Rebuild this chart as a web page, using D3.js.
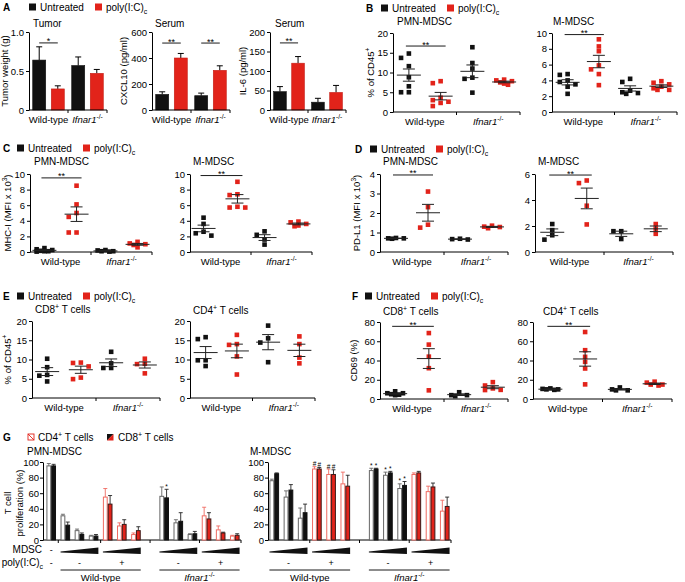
<!DOCTYPE html>
<html><head><meta charset="utf-8">
<script src="https://cdn.jsdelivr.net/npm/d3@7"></script>
<style>
body{margin:0;background:#fff}
text{font-family:"Liberation Sans",Arial,sans-serif;fill:#000}
</style>
</head><body>
<svg id="fig" width="685" height="582"></svg>
<script>
const RED = "#e2231a", BLK = "#111";

// ---- data ----
const genotypes = ["Wild-type", "Ifnar1"];
const treatments = ["Untreated", "poly"];

// A: bar means / SEM, order WT-untreated, WT-poly, KO-untreated, KO-poly
const tumorMean = [0.64, 0.27, 0.57, 0.47];
const tumorSem = [0.17, 0.04, 0.11, 0.05];
const cxcl10Mean = [120, 400, 110, 305];
const cxcl10Sem = [20, 35, 20, 35];
const il6Mean = [47, 120, 20, 45];
const il6Sem = [13, 17, 10, 18];

// B-F: individual mice, same group order
const bPmn = [[14.8, 13.7, 11.6, 8.8, 6.5, 5.0, 5.0], [7.8, 7.3, 3.6, 3.0, 2.6, 2.3, 1.5], [16.4, 12.4, 11.0, 8.7, 8.4, 4.9], [8.2, 8.0, 7.8, 7.5, 7.2, 6.9]];
const bM = [[4.8, 4.7, 4.0, 3.8, 3.5, 3.2, 2.3], [9.2, 8.3, 7.7, 5.9, 5.4, 4.8, 3.4], [4.2, 3.8, 2.7, 2.5, 2.4, 2.3], [3.9, 3.7, 3.5, 3.2, 3.0, 2.8, 2.8]];
const cPmn = [[0.5, 0.35, 0.25, 0.15, 0.1, 0.05, 0.1], [8.5, 6.1, 5.0, 4.5, 2.5, 2.5], [0.25, 0.2, 0.1, 0.05, 0.1], [1.3, 1.1, 1.0, 0.9, 0.6]];
const cM = [[4.4, 3.6, 2.6, 2.4, 2.1], [9.0, 7.4, 7.3, 5.8, 5.7, 5.7], [2.65, 2.2, 1.6, 0.95], [3.9, 3.8, 3.6, 3.4, 3.3]];
const dPmn = [[0.72, 0.7, 0.7, 0.68], [3.1, 2.3, 1.4, 1.25], [0.68, 0.66, 0.64], [1.35, 1.3, 1.28, 1.22]];
const dM = [[2.15, 1.68, 1.29, 0.95], [5.5, 5.3, 3.56, 2.12], [1.6, 1.6, 1.0], [2.15, 1.8, 1.4]];
const eCd8 = [[10.2, 8.0, 6.0, 5.8, 4.3], [9.2, 9.1, 8.2, 5.3, 4.9], [12.0, 9.0, 7.8, 7.8], [10.2, 8.9, 8.8, 6.4]];
const eCd4 = [[15.8, 15.3, 9.8, 9.8, 8.3], [16.4, 14.0, 13.8, 10.8, 6.1], [18.8, 15.5, 14.4, 9.3], [16.0, 14.0, 10.5, 9.0]];
const fCd8 = [[8, 6, 5, 4, 4.5, 6], [68.5, 56.5, 44, 32, 9], [3, 4, 4, 7], [17.5, 14, 11, 9.5, 9.3]];
const fCd4 = [[11, 10.5, 10, 9.5, 10], [69.6, 50.7, 43.8, 38.6, 31.7, 15.2], [9, 9, 10, 12], [18, 17, 15, 15, 14]];

// G: T cell proliferation (%), per condition
const pmnConds = ["ctrl", "WT-1", "WT-2", "WT-3", "WT+1", "WT+2", "WT+3", "KO-1", "KO-2", "KO-3", "KO+1", "KO+2", "KO+3"];
const pmnCd4 = [95, 31, 12, 5, 55, 18, 7, 56, 22, 7, 31, 13, 5];
const pmnCd4Sem = [3, 2, 2, 1, 11, 4, 2, 12, 4, 1, 11, 5, 1];
const pmnCd8 = [95, 19, 7, 5, 46, 20, 12, 54, 24, 8, 27, 9, 6];
const pmnCd8Sem = [2, 4, 2, 2, 11, 6, 5, 11, 11, 3, 8, 1, 2];
const pmnMarks4 = ["", "", "", "", "", "", "", "", "", "", "", "", ""];
const pmnMarks8 = ["", "", "", "", "", "", "", "*", "", "", "", "", ""];
const mConds = ["WT-1", "WT-2", "WT-3", "WT+1", "WT+2", "WT+3", "KO-1", "KO-2", "KO-3", "KO+1", "KO+2", "KO+3"];
const mCd4 = [76, 55, 28, 91, 84, 72, 89, 83, 66, 84, 62, 37];
const mCd4Sem = [2, 8, 13, 3, 7, 15, 3, 4, 6, 2, 7, 14];
const mCd8 = [85, 64, 35, 91, 84, 69, 91, 86, 70, 86, 68, 43];
const mCd8Sem = [1, 7, 11, 2, 6, 14, 1, 2, 5, 2, 5, 12];
const mMarks4 = ["", "", "", "#", "#", "", "*", "*", "*", "", "", ""];
const mMarks8 = ["", "", "", "#", "#", "", "*", "*", "*", "", "", ""];

// ---- helpers ----
const svg = d3.select("#fig");
svg.append("rect").attr("width", 685).attr("height", 582).attr("fill", "#fff");

function rich(txt, parts, fs) {
    let shift = 0;
    parts.forEach(([t, s]) => {
        const sp = txt.append("tspan").text(t);
        const want = s === "sup" ? -0.4 * fs : s === "sub" ? 0.3 * fs : 0;
        if (want !== shift) sp.attr("dy", want - shift);
        shift = want;
        if (s === "i") sp.style("font-style", "italic");
        if (s === "sup" || s === "sub") sp.style("font-size", (fs * 0.7) + "px");
    });
}

function label(x, y, parts, opt = {}) {
    const fs = opt.size || 10;
    const t = svg.append("text").attr("x", x).attr("y", y)
        .style("font-size", fs + "px")
        .attr("text-anchor", opt.anchor || "start");
    if (opt.rotate) t.attr("transform", `rotate(-90,${x},${y})`);
    if (opt.bold) t.style("font-weight", "bold");
    rich(t, typeof parts === "string" ? [[parts, ""]] : parts, fs);
    return t;
}

function line(x1, y1, x2, y2, c = "#000", w = 1) {
    svg.append("line").attr("x1", x1).attr("y1", y1).attr("x2", x2).attr("y2", y2)
        .attr("stroke", c).attr("stroke-width", w);
}

const genoText = g => g === "Ifnar1" ? [["Ifnar1", "i"], ["-/-", "sup"]] : [[g, ""]];
const polyText = [["poly(I:C)", ""], ["c", "sub"]];

function yAxis(x, y, ticks, fmt, pad) {
    svg.append("g").attr("transform", `translate(${x},0)`)
        .call(d3.axisLeft(y).tickValues(ticks).tickSize(3).tickSizeOuter(0).tickPadding(pad ?? 2)
            .tickFormat(fmt || d3.format("d")))
        .call(g => g.selectAll("path,line").attr("stroke", "#000"))
        .call(g => g.selectAll("text").style("font-size", "9.5px"));
}

function xBase(x0, x1, yb, ticksAt) {
    line(x0, yb, x1, yb);
    ticksAt.forEach(t => line(t, yb, t, yb + 3));
}

function legend(letter, lx, sx, by) {
    label(lx, by, letter, { bold: true });
    svg.append("rect").attr("x", sx).attr("y", by - 7.5).attr("width", 7).attr("height", 7).attr("fill", BLK);
    label(sx + 11, by, "Untreated");
    svg.append("rect").attr("x", sx + 66).attr("y", by - 7.5).attr("width", 7).attr("height", 7).attr("fill", RED);
    label(sx + 77, by, polyText);
}

function sigLine(x1, x2, yv, txt) {
    line(x1, yv, x2, yv, "#000", 0.9);
    label((x1 + x2) / 2, yv + 1.5, txt, { anchor: "middle", size: 9 });
}

function swarm(vals, y, size) {
    const placed = [];
    const order = vals.map((v, i) => i).sort((a, b) => vals[b] - vals[a]);
    const cands = [0, -1, 1, -2, 2].map(k => k * size * 0.85);
    order.forEach(i => {
        const py = y(vals[i]);
        let best = 0, bestScore = -Infinity;
        cands.forEach(dx => {
            let minD = size;
            placed.forEach(p => { minD = Math.min(minD, Math.max(Math.abs(p.x - dx), Math.abs(p.y - py))); });
            const score = minD - Math.abs(dx) * 0.01;
            if (score > bestScore) { bestScore = score; best = dx; }
        });
        placed.push({ x: best, y: py });
    });
    return placed;
}

// ---- panel builders ----
function barPanel(o) {
    const y = d3.scaleLinear().domain([0, o.max]).range([o.yBot, o.yTop]);
    const gx = d3.scaleBand().domain(genotypes).range([o.x0, o.x1]);
    const tx = d3.scaleBand().domain(treatments).range([0, gx.bandwidth()]).paddingInner(0.3).paddingOuter(0.2);
    genotypes.forEach((g, gi) => {
        treatments.forEach((t, ti) => {
            const i = gi * 2 + ti, bx = gx(g) + tx(t), bw = tx.bandwidth();
            const top = y(o.mean[i]), et = y(o.mean[i] + o.sem[i]);
            line(bx + bw / 2, top, bx + bw / 2, et, "#000", 1);
            line(bx + bw / 2 - 3, et, bx + bw / 2 + 3, et, "#000", 1);
            svg.append("rect").attr("x", bx).attr("y", top).attr("width", bw).attr("height", o.yBot - top)
                .attr("fill", ti ? RED : BLK).attr("stroke", ti ? "#c41c14" : BLK).attr("stroke-width", 0.6);
        });
        label(gx(g) + gx.bandwidth() / 2, o.yBot + 13, genoText(g), { anchor: "middle", size: 9.5 });
    });
    yAxis(o.x0, y, o.ticks, o.fmt);
    xBase(o.x0, o.x1, o.yBot, [gx("Ifnar1"), o.x1]);
    label(o.titleX, o.titleY, o.title);
    label(o.ylabX, (o.yTop + o.yBot) / 2, o.ylab, { rotate: true, anchor: "middle", size: 9.5 });
    o.sigGenos.forEach(g => {
        const c0 = gx(g) + tx("Untreated") + tx.bandwidth() / 2;
        const c1 = gx(g) + tx("poly") + tx.bandwidth() / 2;
        sigLine(c0, c1, y(o.sigAt), o.sigTxt);
    });
}

function dotPanel(o) {
    const y = d3.scaleLinear().domain([0, o.max]).range([o.yBot, o.yTop]);
    const gx = d3.scaleBand().domain(genotypes).range([o.x0, o.x1]);
    const tx = d3.scalePoint().domain(treatments).range([0, gx.bandwidth()]).padding(o.pad || 0.5);
    yAxis(o.x0, y, o.ticks);
    xBase(o.x0, o.x1, o.yBot, [gx("Ifnar1"), o.x1]);
    const s = 4.6;
    genotypes.forEach((g, gi) => {
        treatments.forEach((t, ti) => {
            const vals = o.data[gi * 2 + ti];
            const cx = gx(g) + tx(t);
            swarm(vals, y, s).forEach(p => {
                svg.append("rect").attr("x", cx + p.x - s / 2).attr("y", p.y - s / 2)
                    .attr("width", s).attr("height", s).attr("fill", ti ? RED : BLK);
            });
            const m = d3.mean(vals), se = d3.deviation(vals) / Math.sqrt(vals.length);
            line(cx - 12, y(m), cx + 12, y(m), "#222", 1);
            line(cx, y(m - se), cx, y(m + se), "#222", 1);
            line(cx - 6, y(m - se), cx + 6, y(m - se), "#222", 1);
            line(cx - 6, y(m + se), cx + 6, y(m + se), "#222", 1);
        });
        label(gx(g) + gx.bandwidth() / 2, o.yBot + 13, genoText(g), { anchor: "middle", size: 9.5 });
    });
    label(o.titleX, o.titleY, o.title);
    if (o.ylab) label(o.ylabX, (o.yTop + o.yBot) / 2, o.ylab, { rotate: true, anchor: "middle", size: 9.5 });
    if (o.sigAt) sigLine(gx("Wild-type") + tx("Untreated") - 3, gx("Wild-type") + tx("poly") + 5, y(o.sigAt), "**");
}

function gPanel(o) {
    const slots = o.conds.slice();
    slots.splice(slots.indexOf("KO-1"), 0, "gap");
    const x = d3.scaleBand().domain(slots).range(o.range).paddingInner(0.32).paddingOuter(0.1);
    const bw = x.bandwidth();
    const sub = d3.scaleBand().domain(["CD4", "CD8"]).range([0, bw]);
    const hw = sub.bandwidth();
    const y = d3.scaleLinear().domain([0, 100]).range([540, 462]);
    yAxis(o.axisX, y, [0, 20, 40, 60, 80, 100], null, 1);
    const mid = (a, b) => (x(a) + bw + x(b)) / 2;
    const tks = [mid("WT-3", "WT+1"), x("gap") + bw / 2, mid("KO-3", "KO+1"), o.range[1]];
    if (o.conds.includes("ctrl")) tks.push(mid("ctrl", "WT-1"));
    xBase(o.axisX, o.range[1], 540, tks);

    o.conds.forEach((c, i) => {
        const poly = c.includes("+");
        const bars = [
            { k: "CD4", v: o.cd4[i], e: o.cd4Sem[i], m: o.marks4[i], fill: "#fff", stroke: poly ? "#ef6b62" : "#666", ec: poly ? "#ef6b62" : "#666" },
            { k: "CD8", v: o.cd8[i], e: o.cd8Sem[i], m: o.marks8[i], fill: poly ? RED : BLK, stroke: poly ? "#3a1a18" : BLK, ec: "#222" }
        ];
        bars.forEach(b => {
            const bx = x(c) + sub(b.k), cx = bx + hw / 2;
            const top = y(b.v), et = y(b.v + b.e);
            line(cx, top, cx, et, b.ec, 0.9);
            line(cx - 2, et, cx + 2, et, b.ec, 0.9);
            svg.append("rect").attr("x", bx + 0.5).attr("y", top).attr("width", hw - 1).attr("height", 540 - top)
                .attr("fill", b.fill).attr("stroke", b.stroke).attr("stroke-width", 1);
            if (b.m) label(cx, et - 0.5, b.m, { anchor: "middle", size: 6.5 });
        });
    });

    // annotation rows under the axis
    const groups = ["WT-", "WT+", "KO-", "KO+"];
    groups.forEach(gp => {
        const xs = x(gp + "1"), xe = x(gp + "3") + bw;
        svg.append("polygon").attr("points", `${xs},551.5 ${xe},547.5 ${xe},554 ${xs},552.5`).attr("fill", BLK);
        label((xs + xe) / 2, 566, gp.includes("+") ? "+" : "-", { anchor: "middle", size: 9 });
    });
    [["WT", "Wild-type"], ["KO", "Ifnar1"]].forEach(([k, g]) => {
        const xs = x(k + "-1"), xe = x(k + "+3") + bw;
        line(xs, 570, xe, 570, "#000", 0.9);
        label((xs + xe) / 2, 581, genoText(g), { anchor: "middle", size: 9.5 });
    });
    if (o.conds.includes("ctrl")) {
        label(x("ctrl") + bw / 2, 553, "-", { anchor: "middle", size: 9 });
        label(x("ctrl") + bw / 2, 566, "-", { anchor: "middle", size: 9 });
        label(42, 553, "MDSC", { anchor: "end" });
        label(43, 566, polyText, { anchor: "end" });
    }
    label(o.titleX, 455, o.title);
}

// ---- A ----
legend("A", 3, 29, 11);
barPanel({ x0: 29, x1: 107, yTop: 32, yBot: 110, max: 1, ticks: [0, 0.5, 1], fmt: d => d === 0 ? "0" : d3.format(".1f")(d),
    mean: tumorMean, sem: tumorSem, title: "Tumor", titleX: 33, titleY: 27,
    ylab: "Tumor weight (g)", ylabX: 8, sigGenos: ["Wild-type"], sigAt: 0.86, sigTxt: "*" });
barPanel({ x0: 152, x1: 230, yTop: 32, yBot: 110, max: 600, ticks: [0, 200, 400, 600],
    mean: cxcl10Mean, sem: cxcl10Sem, title: "Serum", titleX: 155, titleY: 27,
    ylab: "CXCL10 (pg/ml)", ylabX: 127, sigGenos: ["Wild-type", "Ifnar1"], sigAt: 515, sigTxt: "**" });
barPanel({ x0: 270, x1: 346, yTop: 32, yBot: 110, max: 200, ticks: [0, 50, 100, 150, 200],
    mean: il6Mean, sem: il6Sem, title: "Serum", titleX: 275, titleY: 27,
    ylab: "IL-6 (pg/ml)", ylabX: 246, sigGenos: ["Wild-type"], sigAt: 172, sigTxt: "**" });

// ---- B ----
legend("B", 366, 381, 12);
dotPanel({ x0: 393, x1: 520, yTop: 33, yBot: 112, max: 20, ticks: [0, 5, 10, 15, 20], data: bPmn,
    title: "PMN-MDSC", titleX: 397, titleY: 25, ylab: [["% of CD45", ""], ["+", "sup"]], ylabX: 374, sigAt: 16.7 });
dotPanel({ x0: 552, x1: 677, yTop: 33, yBot: 112, max: 10, ticks: [0, 2, 4, 6, 8, 10], data: bM,
    title: "M-MDSC", titleX: 553, titleY: 25, sigAt: 9.8 });

// ---- C ----
legend("C", 3, 17, 152);
dotPanel({ x0: 30, x1: 152, yTop: 174, yBot: 252, max: 10, ticks: [0, 2, 4, 6, 8, 10], data: cPmn, pad: 0.45,
    title: "PMN-MDSC", titleX: 34, titleY: 165, ylab: [["MHC-I (MFI x 10", ""], ["3", "sup"], [")", ""]], ylabX: 11, sigAt: 9.5 });
dotPanel({ x0: 190, x1: 312, yTop: 174, yBot: 252, max: 10, ticks: [0, 2, 4, 6, 8, 10], data: cM, pad: 0.4,
    title: "M-MDSC", titleX: 193, titleY: 165, sigAt: 9.8 });

// ---- D ----
legend("D", 355, 370, 153);
dotPanel({ x0: 380, x1: 508, yTop: 174, yBot: 252, max: 4, ticks: [0, 1, 2, 3, 4], data: dPmn,
    title: "PMN-MDSC", titleX: 383, titleY: 165, ylab: [["PD-L1 (MFI x 10", ""], ["3", "sup"], [")", ""]], ylabX: 360, sigAt: 3.95 });
dotPanel({ x0: 535, x1: 673, yTop: 174, yBot: 252, max: 6, ticks: [0, 2, 4, 6], data: dM,
    title: "M-MDSC", titleX: 538, titleY: 165, sigAt: 5.92 });

// ---- E ----
legend("E", 3, 17, 300);
dotPanel({ x0: 32, x1: 160, yTop: 321, yBot: 398, max: 20, ticks: [0, 5, 10, 15, 20], data: eCd8, pad: 0.45,
    title: [["CD8", ""], ["+", "sup"], [" T cells", ""]], titleX: 35, titleY: 313, ylab: [["% of CD45", ""], ["+", "sup"]], ylabX: 11 });
dotPanel({ x0: 190, x1: 315, yTop: 321, yBot: 398, max: 20, ticks: [0, 5, 10, 15, 20], data: eCd4,
    title: [["CD4", ""], ["+", "sup"], [" T cells", ""]], titleX: 193, titleY: 314 });

// ---- F ----
legend("F", 352, 365, 300);
dotPanel({ x0: 380, x1: 508, yTop: 322, yBot: 399, max: 80, ticks: [0, 20, 40, 60, 80], data: fCd8, pad: 0.45,
    title: [["CD8", ""], ["+", "sup"], [" T cells", ""]], titleX: 383, titleY: 315, ylab: "CD69 (%)", ylabX: 357, sigAt: 75.5 });
dotPanel({ x0: 533, x1: 672, yTop: 322, yBot: 399, max: 80, ticks: [0, 20, 40, 60, 80], data: fCd4,
    title: [["CD4", ""], ["+", "sup"], [" T cells", ""]], titleX: 543, titleY: 315, sigAt: 75.5 });

// ---- G ----
label(3, 441, "G", { bold: true });
svg.append("rect").attr("x", 28).attr("y", 434).attr("width", 6).attr("height", 6).attr("fill", "#fff").attr("stroke", RED).attr("stroke-width", 0.9);
line(28, 434, 34, 440, RED, 0.9);
label(38, 441, [["CD4", ""], ["+", "sup"], [" T cells", ""]]);
svg.append("polygon").attr("points", "107,434 113.5,434 107,440.5").attr("fill", BLK);
svg.append("polygon").attr("points", "113.5,434 113.5,440.5 107,440.5").attr("fill", RED);
label(118, 441, [["CD8", ""], ["+", "sup"], [" T cells", ""]]);
label(11, 503, "T cell", { rotate: true, anchor: "middle", size: 9.5 });
label(23, 503, "proliferation (%)", { rotate: true, anchor: "middle", size: 9.5 });

gPanel({ conds: pmnConds, cd4: pmnCd4, cd4Sem: pmnCd4Sem, cd8: pmnCd8, cd8Sem: pmnCd8Sem,
    marks4: pmnMarks4, marks8: pmnMarks8, range: [45, 241], axisX: 43, title: "PMN-MDSC", titleX: 27 });
gPanel({ conds: mConds, cd4: mCd4, cd4Sem: mCd4Sem, cd8: mCd8, cd8Sem: mCd8Sem,
    marks4: mMarks4, marks8: mMarks8, range: [268, 451], axisX: 268, title: "M-MDSC", titleX: 250 });
</script>
</body></html>
